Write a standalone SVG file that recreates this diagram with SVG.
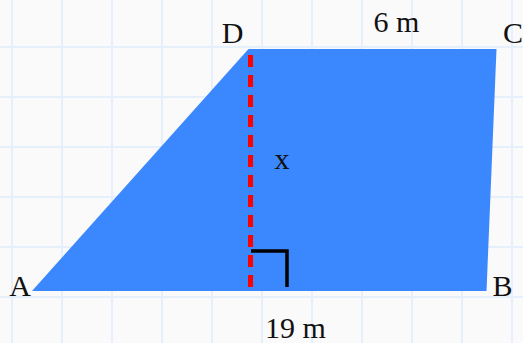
<svg xmlns="http://www.w3.org/2000/svg" width="523" height="343" viewBox="0 0 523 343">
<defs>
<style>
.grid line{stroke:#e6effc;stroke-width:2}
.lbl{font-family:"Liberation Serif","Times New Roman",serif;font-size:30px;fill:#111;text-anchor:middle}
</style>
</defs>
<rect width="523" height="343" fill="#fafafa"/>
<g class="grid">
<line x1="12" y1="0" x2="12" y2="343"/><line x1="62" y1="0" x2="62" y2="343"/><line x1="112" y1="0" x2="112" y2="343"/><line x1="162" y1="0" x2="162" y2="343"/><line x1="212" y1="0" x2="212" y2="343"/><line x1="262" y1="0" x2="262" y2="343"/><line x1="312" y1="0" x2="312" y2="343"/><line x1="362" y1="0" x2="362" y2="343"/><line x1="412" y1="0" x2="412" y2="343"/><line x1="462" y1="0" x2="462" y2="343"/><line x1="512" y1="0" x2="512" y2="343"/>
<line x1="0" y1="47" x2="523" y2="47"/><line x1="0" y1="97" x2="523" y2="97"/><line x1="0" y1="147" x2="523" y2="147"/><line x1="0" y1="197" x2="523" y2="197"/><line x1="0" y1="247" x2="523" y2="247"/><line x1="0" y1="297" x2="523" y2="297"/>
</g>
<g id="trapezoid">
<polygon points="32,291 486.5,291 496.5,49 248.5,49" fill="#3b87fd"/>
</g>
<g id="connectors">
<line id="height" x1="250.5" y1="55" x2="250.5" y2="291" stroke="#ff0000" stroke-width="5" stroke-dasharray="12 8"/>
<polyline id="right-angle" points="251,251 287,251 287,287" fill="none" stroke="#000" stroke-width="3.5"/>
</g>
<g id="labels">
<text class="lbl" x="232.5" y="43">D</text>
<text class="lbl" x="513" y="43">C</text>
<text class="lbl" x="20" y="296">A</text>
<text class="lbl" x="502.5" y="296">B</text>
<text class="lbl" x="396.5" y="32">6 m</text>
<text class="lbl" x="282" y="169">x</text>
<text class="lbl" x="295.5" y="338">19 m</text>
</g>
</svg>
